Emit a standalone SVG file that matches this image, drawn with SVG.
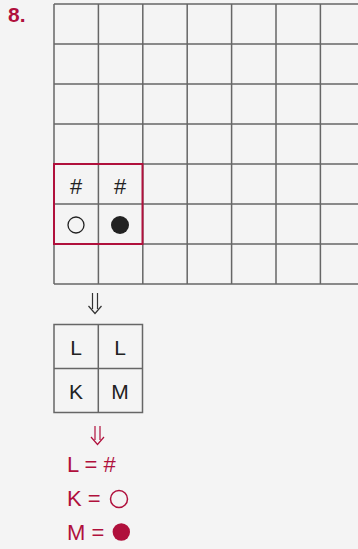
<svg xmlns="http://www.w3.org/2000/svg" width="358" height="549" viewBox="0 0 358 549">
<style>
.g{stroke:#666;stroke-width:1.5;fill:none}
.t{font-family:"Liberation Sans",Arial,sans-serif;font-size:21px;fill:#222;text-anchor:middle}
.ar{fill:none;stroke-width:1.2;stroke-linejoin:miter}
.r{font-family:"Liberation Sans",Arial,sans-serif;font-size:22px;fill:#b0103c}
</style>
<rect width="358" height="549" fill="#f4f4f4"/>
<text x="8" y="22" font-family="Liberation Sans,Arial,sans-serif" font-weight="bold" font-size="21" fill="#b0103c">8.</text>
<g id="grid">
<path class="g" d="M54 4H358M54 44H358M54 84H358M54 124H358M54 164H358M54 204H358M54 244H358M54 284H358M54 4V284M98.4 4V284M142.8 4V284M187.2 4V284M231.6 4V284M276 4V284M320.4 4V284"/>
<rect x="54" y="164" width="88.5" height="80" fill="none" stroke="#b0103c" stroke-width="2"/>
<text class="t" x="76" y="194" style="font-size:22px">#</text>
<text class="t" x="120" y="194" style="font-size:22px">#</text>
<circle cx="76" cy="225" r="8" fill="none" stroke="#222" stroke-width="1.3"/>
<circle cx="120" cy="225" r="9" fill="#222"/>
</g>
<g id="arrow1"><path class="ar" stroke="#333" d="M92.5 293V309M97.5 293V309M88.5 306L95 313.5L101.5 306"/></g>
<g id="small">
<path class="g" d="M54 324.5H142.5V412.5H54ZM54 368.5H142.5M98.3 324.5V412.5"/>
<text class="t" x="76" y="355">L</text>
<text class="t" x="120" y="355">L</text>
<text class="t" x="76" y="399">K</text>
<text class="t" x="120" y="399">M</text>
</g>
<g id="arrow2"><path class="ar" stroke="#b0103c" d="M95 426V440M100 426V440M91 437L97.5 444.5L104 437"/></g>
<g id="legend">
<text class="r" x="67" y="472">L = #</text>
<text class="r" x="67" y="506">K =</text>
<circle cx="119" cy="499" r="8.5" fill="none" stroke="#b0103c" stroke-width="1.5"/>
<text class="r" x="67" y="540">M =</text>
<circle cx="121.3" cy="532" r="8.7" fill="#b0103c"/>
</g>
</svg>
